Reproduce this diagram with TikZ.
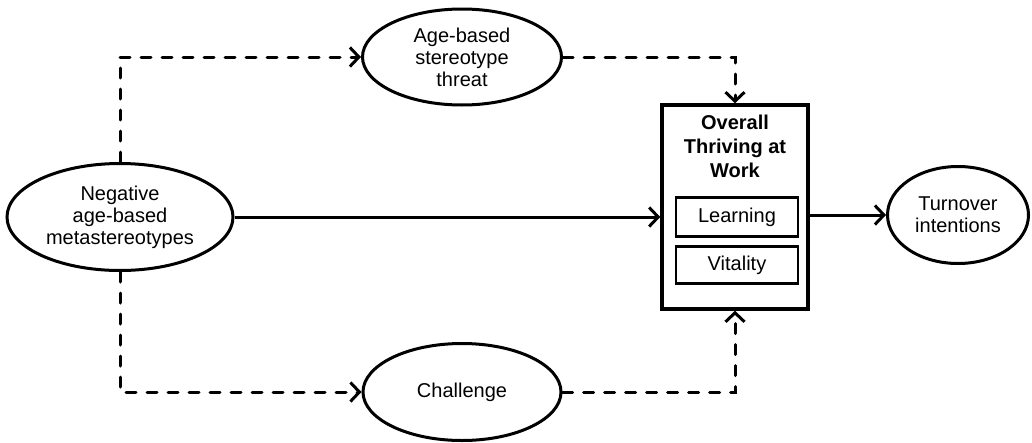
\documentclass[tikz,border=0pt]{standalone}
\usepackage{fontspec}
\setmainfont{Liberation Sans}
\usetikzlibrary{arrows.meta,shapes.geometric}

\begin{document}
\begin{tikzpicture}[x=1pt,y=-1pt,
    oval/.style={ellipse,draw,line width=3pt,inner sep=0pt,align=center,font=\fontsize{20}{22}\selectfont},
    arr/.style={line width=3pt,-{Straight Barb[length=9pt,width=19pt]}},
    darr/.style={arr,line cap=round,dash pattern=on 10pt off 11pt}]
            \useasboundingbox (0,0) rectangle (1032,442);

            %nodo di partenza a sinistra
            \node[oval,minimum width=226pt,minimum height=107pt] (neg) at (120,217) {Negative\\age-based\\metastereotypes};

            %due mediatori sopra e sotto
            \node[oval,minimum width=199pt,minimum height=96pt] (threat) at (462,57) {Age-based\\stereotype\\threat};
            \node[oval,minimum width=198pt,minimum height=97pt] (chal) at (462,392) {Challenge};

            %box centrale con i due sotto box
            \node[draw,line width=3.5pt,minimum width=146pt,minimum height=204pt,inner sep=0pt] (thrive) at (735,207) {};
            \node[font=\bfseries\fontsize{20}{24}\selectfont,align=center] (title) at (735,146) {Overall\\Thriving at\\Work};
            \node[draw,line width=2.2pt,minimum width=122pt,minimum height=39pt,inner sep=0pt,font=\fontsize{20}{22}\selectfont] (learn) at (737,217) {Learning};
            \node[draw,line width=2.2pt,minimum width=122pt,minimum height=37pt,inner sep=0pt,font=\fontsize{20}{22}\selectfont] (vital) at (737,265) {Vitality};

            %esito a destra
            \node[oval,minimum width=141pt,minimum height=97pt] (turn) at (958,215) {Turnover\\intentions};

            %Archi
            \draw[darr] (neg.north) |- (threat.west);
            \draw[darr] (neg.south) |- (chal.west);
            \draw[darr] (threat.east) -| (thrive.north);
            \draw[darr] (chal.east) -| (thrive.south);
            \draw[arr] (neg.east) -- (neg.east -| thrive.west);
            \draw[arr] (thrive.east |- turn.west) -- (turn.west);

        \end{tikzpicture}
\end{document}
